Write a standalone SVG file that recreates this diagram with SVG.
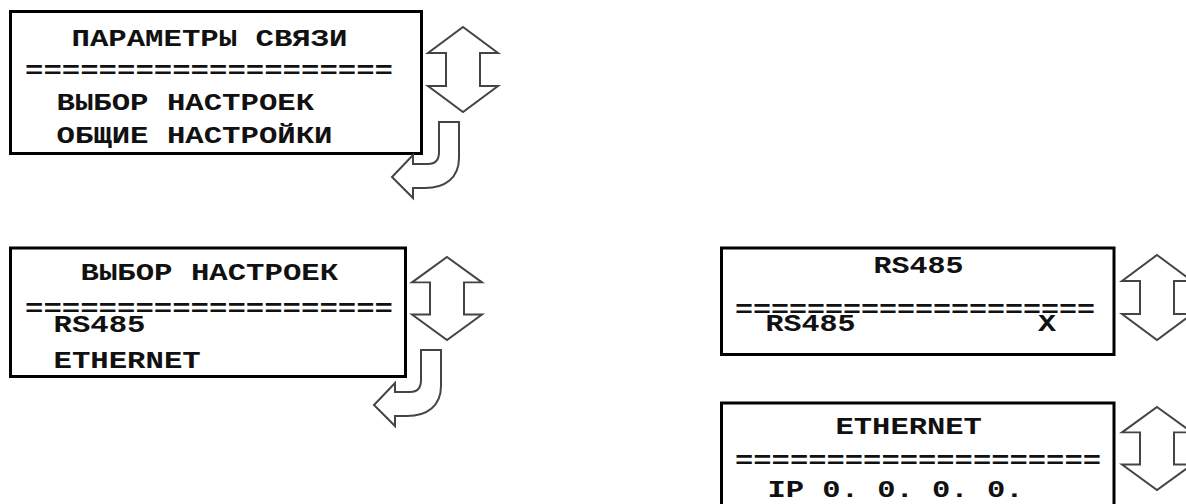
<svg xmlns="http://www.w3.org/2000/svg" width="1186" height="504" viewBox="0 0 1186 504">
<style>
.box{fill:#fff;stroke:#000;stroke-width:3}
.t{font-family:"Liberation Mono","DejaVu Sans Mono",monospace;font-weight:bold;font-size:24px;fill:#111}
.arr{fill:#fff;stroke:#444;stroke-width:2;stroke-linejoin:miter}
</style>
<defs>
<path id="dbl" d="M0,0 L35,26 H17 V59 H35 L0,85 L-35,59 H-17 V26 H-35 Z"/>
<path id="bend" d="M439,122 H459 V158 C459,178 445,188 425,188 H413 V198 L392,177 L413,155 V164 H428 C435,164 439,160 439,152 Z"/>
</defs>
<rect width="1186" height="504" fill="#fff"/>
<g id="node-params">
<rect class="box" x="10.5" y="11.5" width="411" height="142"/>
<text class="t" x="71.5" y="46" textLength="276" lengthAdjust="spacingAndGlyphs">ПАРАМЕТРЫ СВЯЗИ</text>
<text class="t" x="25" y="78" textLength="368" lengthAdjust="spacingAndGlyphs">====================</text>
<text class="t" x="56.5" y="110" textLength="257.6" lengthAdjust="spacingAndGlyphs">ВЫБОР НАСТРОЕК</text>
<text class="t" x="56.5" y="143" textLength="276" lengthAdjust="spacingAndGlyphs">ОБЩИЕ НАСТРОЙКИ</text>
</g>
<g id="node-select">
<rect class="box" x="10.5" y="248" width="395" height="128.5"/>
<text class="t" x="80.5" y="280" textLength="257.6" lengthAdjust="spacingAndGlyphs">ВЫБОР НАСТРОЕК</text>
<text class="t" x="25" y="316" textLength="368" lengthAdjust="spacingAndGlyphs">====================</text>
<text class="t" x="53.5" y="332" textLength="92" lengthAdjust="spacingAndGlyphs">RS485</text>
<text class="t" x="53.5" y="368" textLength="147.2" lengthAdjust="spacingAndGlyphs">ETHERNET</text>
</g>
<g id="node-rs485">
<rect class="box" x="721.5" y="248" width="392.5" height="106.5"/>
<text class="t" x="873.5" y="273" textLength="90" lengthAdjust="spacingAndGlyphs">RS485</text>
<text class="t" x="735" y="317" textLength="360" lengthAdjust="spacingAndGlyphs">====================</text>
<text class="t" x="765.5" y="331" textLength="90" lengthAdjust="spacingAndGlyphs">RS485</text>
<text class="t" x="1038" y="331" textLength="18" lengthAdjust="spacingAndGlyphs">X</text>
</g>
<g id="node-ethernet">
<rect class="box" x="721.5" y="403" width="392.5" height="120"/>
<text class="t" x="835.5" y="434" textLength="146.4" lengthAdjust="spacingAndGlyphs">ETHERNET</text>
<text class="t" x="735" y="468" textLength="366" lengthAdjust="spacingAndGlyphs">====================</text>
<text class="t" x="767.5" y="497" textLength="256" lengthAdjust="spacingAndGlyphs">IP 0. 0. 0. 0.</text>
</g>
<g id="connectors">
<use href="#dbl" class="arr" transform="translate(463,27)"/>
<use href="#bend" class="arr"/>
<use href="#dbl" class="arr" transform="translate(447,257) scale(1,0.976)"/>
<use href="#bend" class="arr" transform="translate(-18,228)"/>
<use href="#dbl" class="arr" transform="translate(1157,255)"/>
<use href="#dbl" class="arr" transform="translate(1157,407) scale(1,0.976)"/>
</g>
</svg>
